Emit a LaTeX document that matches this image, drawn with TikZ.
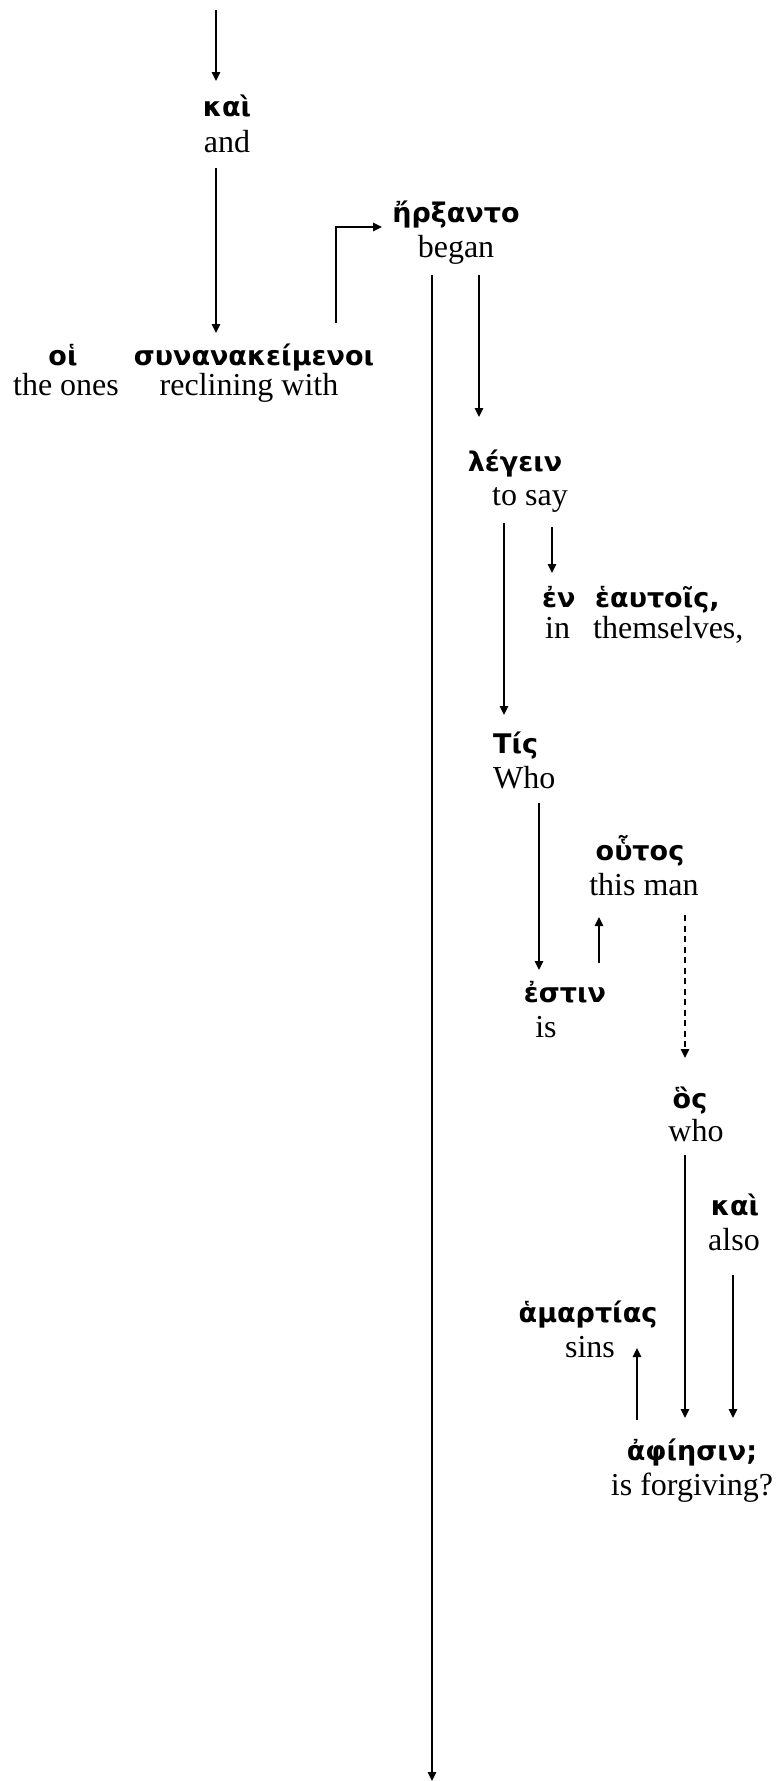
\documentclass[tikz,border=0pt]{standalone}
\usepackage{fontspec}
\setmainfont{Liberation Serif}
\newfontfamily\gkfam[Script=Greek]{DejaVu Sans}
\usetikzlibrary{arrows.meta,calc}
\newcommand{\gkfont}{\gkfam\bfseries\fontsize{27}{31}\selectfont}
\newcommand{\enfont}{\rmfamily\fontsize{32}{37}\selectfont}
\tikzset{
  gr/.style={anchor=base, inner sep=0pt, font=\gkfont},
  grw/.style={anchor=base west, inner sep=0pt, font=\gkfont},
  en/.style={anchor=base, inner sep=0pt, font=\enfont},
  enw/.style={anchor=base west, inner sep=0pt, font=\enfont},
  arr/.style={line width=1.4pt, -{Triangle[length=9pt,width=8.5pt]}},
}
\begin{document}
\begin{tikzpicture}[x=1pt,y=-1pt]
\useasboundingbox (0,0) rectangle (778,1781);
% nodes
\node[gr] (g1) at (227,116) {καὶ};
\node[en] (e1) at (227,152) {and};
\node[gr] (g2) at (63,365) {οἱ};
\node[en] (e2) at (66,395) {the ones};
\node[gr] (g3) at (254,365) {συνανακείμενοι};
\node[en] (e3) at (249,395) {reclining with};
\node[gr] (g4) at (456,222) {ἤρξαντο};
\node[en] (e4) at (456,257) {began};
\node[gr] (g5) at (515,471) {λέγειν};
\node[en] (e5) at (530,505) {to say};
\node[grw] (g6) at (542,607) {ἐν};
\node[enw] (e6) at (545,638) {in};
\node[grw] (g7) at (595,607) {ἑαυτοῖς,};
\node[enw] (e7) at (593,638) {themselves,};
\node[grw] (g8) at (493,753) {Τίς};
\node[enw] (e8) at (493,788) {Who};
\node[gr] (g9) at (640,860) {οὗτος};
\node[en] (e9) at (644,895) {this man};
\node[gr] (g10) at (565,1002) {ἐστιν};
\node[en] (e10) at (546,1037) {is};
\node[gr] (g11) at (690,1108) {ὃς};
\node[en] (e11) at (696,1141) {who};
\node[gr] (g12) at (735,1215) {καὶ};
\node[en] (e12) at (734,1250) {also};
\node[gr] (g13) at (588,1322) {ἁμαρτίας};
\node[en] (e13) at (590,1357) {sins};
\node[gr] (g14) at (692,1460) {ἀφίησιν;};
\node[en] (e14) at (692,1495) {is forgiving?};
% free ends
\coordinate (top) at (216,10);
\coordinate (bot) at (432,1781);
% connectors
\draw[arr] (top) -- ($(g1.base)+(-11,-35)$);
\draw[arr] ($(e1.base)+(-11,16)$) -- ($(g3.base)+(-38,-32)$);
\draw[arr] ($(g3.base)+(82,-42)$) |- ($(g4.base)+(-74,5)$);
\draw[arr] ($(e4.base)+(-24,18)$) -- (bot);
\draw[arr] ($(e4.base)+(23,18)$) -- ($(g5.base)+(-36,-54)$);
\draw[arr] ($(e5.base)+(-26,18)$) -- ($(g8.base west)+(11,-38)$);
\draw[arr] ($(e5.base)+(22,22)$) -- ($(g6.base west)+(10,-34)$);
\draw[arr] ($(e8.base west)+(46,15)$) -- ($(g10.base)+(-26,-32)$);
\draw[arr] ($(g10.base)+(34,-39)$) -- ($(e9.base)+(-45,22)$);
\draw[arr, dash pattern=on 6pt off 4.5pt] ($(e9.base)+(41,20)$) -- ($(g11.base)+(-5,-50)$);
\draw[arr] ($(e11.base)+(-11,14)$) -- ($(g14.base)+(-7,-42)$);
\draw[arr] ($(e12.base)+(-1,25)$) -- ($(g14.base)+(41,-42)$);
\draw[arr] ($(g14.base)+(-55,-40)$) -- ($(e13.base)+(47,-9)$);
\end{tikzpicture}
\end{document}
